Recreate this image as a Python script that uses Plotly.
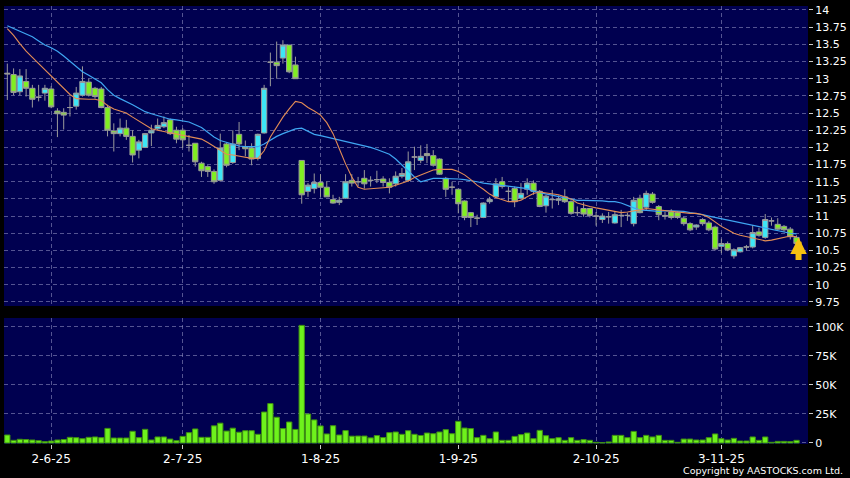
import plotly.graph_objects as go

# ---- data ----
open_ = [13.08, 13.06, 12.81, 12.96, 12.86, 12.73, 12.79, 12.85, 12.53, 12.51,
         12.58, 12.60, 12.76, 12.95, 12.86, 12.85, 12.58, 12.24, 12.20, 12.28,
         12.16, 11.96, 12.00, 12.21, 12.27, 12.30, 12.40, 12.25, 12.25, 12.03,
         12.06, 11.77, 11.72, 11.65, 11.52, 12.05, 11.78, 12.19, 12.01, 11.99,
         11.84, 12.21, 13.24, 13.24, 13.30, 13.49, 13.20, 11.81, 11.36, 11.40,
         11.49, 11.42, 11.24, 11.20, 11.26, 11.52, 11.50, 11.55, 11.52, 11.53,
         11.54, 11.49, 11.47, 11.58, 11.52, 11.86, 11.81, 11.91, 11.88, 11.83,
         11.55, 11.42, 11.39, 11.22, 11.05, 10.97, 10.98, 11.21, 11.28, 11.50,
         11.36, 11.40, 11.26, 11.39, 11.48, 11.36, 11.15, 11.24, 11.23, 11.28,
         11.21, 11.05, 11.11, 11.11, 11.00, 10.95, 10.99, 10.90, 11.01, 11.01,
         10.89, 11.26, 11.13, 11.32, 11.14, 11.01, 11.06, 11.05, 10.97, 10.89,
         10.84, 10.95, 10.90, 10.84, 10.56, 10.60, 10.42, 10.48, 10.55, 10.55,
         10.77, 10.69, 10.93, 10.88, 10.85, 10.81, 10.69]
high = [13.22, 13.15, 13.14, 13.14, 12.91, 12.91, 12.91, 12.89, 12.57, 12.57,
        12.74, 12.88, 13.18, 13.00, 12.88, 12.88, 12.62, 12.35, 12.42, 12.40,
        12.25, 12.11, 12.21, 12.33, 12.42, 12.45, 12.42, 12.30, 12.28, 12.18,
        12.06, 11.79, 11.74, 11.68, 12.20, 12.07, 12.25, 12.37, 12.10, 12.06,
        12.20, 12.91, 13.38, 13.54, 13.56, 13.49, 13.32, 11.81, 11.48, 11.62,
        11.61, 11.50, 11.31, 11.28, 11.61, 11.61, 11.57, 11.67, 11.58, 11.66,
        11.58, 11.55, 11.65, 11.70, 11.94, 12.01, 12.03, 12.05, 11.96, 11.84,
        11.57, 11.50, 11.40, 11.23, 11.06, 11.02, 11.20, 11.28, 11.55, 11.57,
        11.43, 11.43, 11.48, 11.55, 11.52, 11.38, 11.31, 11.38, 11.30, 11.39,
        11.23, 11.14, 11.20, 11.12, 11.06, 11.04, 11.06, 11.06, 11.09, 11.05,
        11.28, 11.31, 11.37, 11.35, 11.16, 11.06, 11.10, 11.07, 10.99, 10.91,
        10.88, 10.97, 10.93, 10.86, 10.67, 10.63, 10.53, 10.55, 10.58, 10.87,
        10.83, 11.03, 10.98, 10.97, 10.87, 10.84, 10.72]
low = [12.69, 12.76, 12.76, 12.74, 12.58, 12.67, 12.68, 12.57, 12.15, 12.26,
       12.45, 12.55, 12.74, 12.74, 12.71, 12.57, 12.16, 11.94, 12.16, 12.11,
       11.78, 11.84, 11.99, 12.02, 12.25, 12.28, 12.18, 12.06, 11.99, 11.94,
       11.72, 11.57, 11.57, 11.47, 11.50, 11.71, 11.76, 11.96, 11.87, 11.74,
       11.81, 12.20, 12.89, 13.00, 13.22, 13.08, 13.00, 11.18, 11.28, 11.33,
       11.28, 11.28, 11.18, 11.16, 11.25, 11.43, 11.43, 11.40, 11.43, 11.48,
       11.43, 11.33, 11.43, 11.55, 11.50, 11.67, 11.77, 11.77, 11.72, 11.60,
       11.28, 11.31, 11.04, 10.94, 10.84, 10.87, 10.97, 11.18, 11.26, 11.40,
       11.21, 11.13, 11.24, 11.31, 11.31, 11.13, 11.05, 11.11, 11.16, 11.19,
       11.02, 11.00, 10.99, 10.98, 10.86, 10.90, 10.89, 10.89, 10.84, 10.93,
       10.85, 11.04, 11.09, 11.18, 10.94, 10.95, 10.95, 10.96, 10.86, 10.78,
       10.80, 10.86, 10.78, 10.50, 10.46, 10.49, 10.38, 10.47, 10.50, 10.53,
       10.70, 10.67, 10.86, 10.80, 10.77, 10.66, 10.60]
close = [13.07, 12.80, 13.04, 12.86, 12.70, 12.73, 12.86, 12.59, 12.49, 12.47,
         12.58, 12.79, 12.96, 12.76, 12.74, 12.58, 12.25, 12.20, 12.28, 12.16,
         11.89, 12.08, 12.20, 12.25, 12.32, 12.36, 12.20, 12.12, 12.11, 12.03,
         11.79, 11.66, 11.65, 11.50, 11.99, 11.74, 12.05, 12.05, 11.98, 11.83,
         12.19, 12.86, 13.24, 13.19, 13.49, 13.10, 13.00, 11.31, 11.45, 11.49,
         11.42, 11.28, 11.19, 11.23, 11.50, 11.48, 11.50, 11.47, 11.52, 11.53,
         11.49, 11.42, 11.58, 11.62, 11.79, 11.86, 11.87, 11.88, 11.74, 11.61,
         11.39, 11.42, 11.18, 10.98, 10.98, 10.97, 11.19, 11.24, 11.47, 11.43,
         11.36, 11.21, 11.33, 11.48, 11.36, 11.14, 11.29, 11.24, 11.25, 11.21,
         11.04, 11.05, 11.03, 11.01, 11.00, 11.00, 10.99, 11.02, 11.01, 11.01,
         11.23, 11.05, 11.33, 11.20, 11.02, 11.00, 10.98, 10.98, 10.89, 10.80,
         10.87, 10.89, 10.80, 10.52, 10.60, 10.51, 10.51, 10.54, 10.55, 10.76,
         10.72, 10.95, 10.93, 10.81, 10.80, 10.70, 10.60]
volume = [6900, 2300, 3200, 3000, 2600, 2000, 1200, 1700, 2600, 3000,
          4900, 4600, 3700, 4900, 5200, 4600, 12600, 4300, 4300, 4300,
          10100, 4600, 11800, 2600, 5200, 5200, 3400, 2000, 5700, 8900,
          12100, 4900, 4900, 14800, 17100, 10300, 12800, 9300, 10600, 10600,
          7500, 26700, 34000, 22200, 12400, 18100, 11700, 101400, 25000, 19900,
          14700, 7800, 14900, 6900, 10700, 5900, 6000, 6000, 4400, 6400,
          4700, 8900, 9500, 7500, 10600, 7500, 6500, 8600, 8000, 9500,
          11500, 8000, 18700, 12900, 12400, 4600, 6600, 3700, 9500, 2300,
          2300, 5700, 7200, 8600, 3700, 10900, 6300, 3700, 4600, 2300,
          4600, 2300, 2900, 2300, 600, 300, 900, 6600, 6600, 4600,
          10000, 4600, 6600, 5200, 6600, 2300, 2300, 600, 3400, 3400,
          2600, 2600, 4600, 7800, 3700, 2600, 4000, 1700, 1700, 5200,
          2300, 5200, 600, 1400, 1400, 1200, 2300]
ma_short = [13.73, 13.63, 13.51, 13.40, 13.31, 13.22, 13.13, 13.04, 12.95, 12.85,
            12.77, 12.71, 12.70, 12.70, 12.70, 12.68, 12.61, 12.56, 12.53, 12.50,
            12.44, 12.38, 12.32, 12.27, 12.25, 12.23, 12.21, 12.20, 12.18, 12.16,
            12.14, 12.12, 12.07, 12.01, 11.95, 11.90, 11.89, 11.87, 11.86, 11.84,
            11.84, 11.95, 12.15, 12.30, 12.44, 12.56, 12.67, 12.65, 12.58, 12.53,
            12.47, 12.36, 12.20, 11.98, 11.76, 11.57, 11.42, 11.39, 11.40, 11.40,
            11.41, 11.42, 11.45, 11.48, 11.51, 11.56, 11.60, 11.64, 11.67, 11.68,
            11.68, 11.68, 11.65, 11.60, 11.53, 11.45, 11.39, 11.32, 11.27, 11.24,
            11.21, 11.21, 11.23, 11.28, 11.33, 11.35, 11.34, 11.33, 11.31, 11.28,
            11.25, 11.19, 11.16, 11.14, 11.12, 11.10, 11.08, 11.06, 11.05, 11.06,
            11.07, 11.09, 11.11, 11.10, 11.09, 11.08, 11.06, 11.05, 11.05, 11.04,
            11.04, 11.02, 10.98, 10.91, 10.85, 10.80, 10.75, 10.72, 10.70, 10.68,
            10.66, 10.64, 10.65, 10.67, 10.69, 10.71, 10.70]
ma_long = [13.77, 13.73, 13.69, 13.65, 13.61, 13.55, 13.49, 13.45, 13.40, 13.33,
           13.25, 13.17, 13.10, 13.05, 13.00, 12.94, 12.84, 12.76, 12.71, 12.67,
           12.62, 12.57, 12.52, 12.49, 12.46, 12.43, 12.41, 12.40, 12.39, 12.37,
           12.33, 12.29, 12.22, 12.15, 12.10, 12.07, 12.04, 12.02, 12.01, 12.01,
           12.01, 12.05, 12.11, 12.16, 12.20, 12.23, 12.27, 12.28, 12.23, 12.19,
           12.17, 12.15, 12.13, 12.11, 12.09, 12.07, 12.05, 12.02, 12.00, 11.97,
           11.94, 11.90, 11.83, 11.74, 11.65, 11.57, 11.50, 11.53, 11.55, 11.55,
           11.55, 11.55, 11.54, 11.53, 11.52, 11.50, 11.48, 11.47, 11.46, 11.45,
           11.44, 11.43, 11.42, 11.40, 11.36, 11.34, 11.32, 11.31, 11.28, 11.26,
           11.24, 11.23, 11.23, 11.23, 11.22, 11.22, 11.21, 11.21, 11.19, 11.15,
           11.12, 11.09, 11.08, 11.07, 11.07, 11.08, 11.08, 11.08, 11.07, 11.05,
           11.04, 11.02, 11.00, 10.98, 10.96, 10.94, 10.92, 10.90, 10.88, 10.87,
           10.85, 10.83, 10.81, 10.79, 10.77, 10.75, 10.74]
date_tick_pos = [7, 28, 50, 72, 94, 114]
date_tick_text = ["2-6-25", "2-7-25", "1-8-25", "1-9-25", "2-10-25", "3-11-25"]
price_tick_vals = [9.75, 10, 10.25, 10.5, 10.75, 11, 11.25, 11.5, 11.75, 12,
                   12.25, 12.5, 12.75, 13, 13.25, 13.5, 13.75, 14]
price_tick_text = ["9.75", "10", "10.25", "10.5", "10.75", "11", "11.25", "11.5",
                   "11.75", "12", "12.25", "12.5", "12.75", "13", "13.25", "13.5",
                   "13.75", "14"]
vol_tick_vals = [0, 25000, 50000, 75000, 100000]
vol_tick_text = ["0", "25K", "50K", "75K", "100K"]

x = list(range(len(close)))

FONT = "DejaVu Sans"
GRID = "rgba(140,140,190,0.6)"
GDASH = "4px,3px"
BG = "#000050"

fig = go.Figure()
fig.add_trace(go.Candlestick(
    x=x, open=open_, high=high, low=low, close=close,
    increasing=dict(line=dict(color="#9a9a9a", width=1), fillcolor="#3de6f6"),
    decreasing=dict(line=dict(color="#9a9a9a", width=1), fillcolor="#80ee22"),
    whiskerwidth=0, xaxis="x", yaxis="y", showlegend=False, hoverinfo="skip"))
fig.add_trace(go.Scatter(x=x, y=ma_long, mode="lines",
                         line=dict(color="#3fa6f2", width=1.2),
                         xaxis="x", yaxis="y", showlegend=False))
fig.add_trace(go.Scatter(x=x, y=ma_short, mode="lines",
                         line=dict(color="#e38c55", width=1.1),
                         xaxis="x", yaxis="y", showlegend=False))
fig.add_trace(go.Bar(x=x, y=volume, marker=dict(color="#6ef21c",
                                                line=dict(color="#3f8f12", width=1)),
                     width=0.85, xaxis="x2", yaxis="y2", showlegend=False))

xr = [-0.53, 127.83]
fig.update_layout(
    width=850, height=478,
    paper_bgcolor="black", plot_bgcolor=BG,
    margin=dict(l=4, r=42, t=6, b=34, autoexpand=False),
    boxgap=0.08, boxgroupgap=0.08,
    bargap=0.15,
    font=dict(family=FONT, color="white", size=11),
    xaxis=dict(domain=[0, 1], anchor="y", range=xr, showticklabels=False,
               tickvals=date_tick_pos, ticks="", showgrid=True, gridcolor=GRID,
               griddash=GDASH, gridwidth=1, zeroline=False,
               rangeslider=dict(visible=False), showline=False),
    yaxis=dict(domain=[0.3151, 1], anchor="x", side="right",
               range=[9.6914, 14.058], tickvals=price_tick_vals,
               ticktext=price_tick_text, ticks="outside", ticklen=4,
               tickcolor="#cccccc", showgrid=True, gridcolor=GRID,
               griddash=GDASH, zeroline=False, showline=False,
               tickfont=dict(family=FONT, size=11, color="white")),
    xaxis2=dict(domain=[0, 1], anchor="y2", range=xr, matches="x",
                tickvals=date_tick_pos, ticktext=date_tick_text,
                ticks="outside", ticklen=4, tickcolor="#cccccc",
                showgrid=True, gridcolor=GRID, griddash=GDASH, zeroline=False,
                showline=False,
                tickfont=dict(family=FONT, size=12, color="white")),
    yaxis2=dict(domain=[0, 0.2877], anchor="x2", side="right",
                range=[-860, 107760], tickvals=vol_tick_vals,
                ticktext=vol_tick_text, ticks="outside", ticklen=4,
                tickcolor="#cccccc", showgrid=True, gridcolor=GRID,
                griddash=GDASH, zeroline=False, showline=False,
                tickfont=dict(family=FONT, size=11, color="white")),
    annotations=[
        dict(x=x[-1], y=low[-1], xref="x", yref="y", text="", showarrow=True,
             ax=0, ay=24, arrowcolor="#f5c010", arrowwidth=6, arrowhead=2,
             arrowsize=0.55, xshift=2, yshift=6),
        dict(x=1.046, y=-0.0594, xref="paper", yref="paper",
             text="Copyright by AASTOCKS.com Ltd.", showarrow=False,
             xanchor="right", yanchor="middle",
             font=dict(family=FONT, size=9.5, color="white")),
    ],
)

fig.write_html("out.html",
               config={"displayModeBar": False},
               post_script="document.body.style.margin='0px';"
                           "document.body.style.padding='0px';"
                           "document.body.style.overflow='hidden';")
